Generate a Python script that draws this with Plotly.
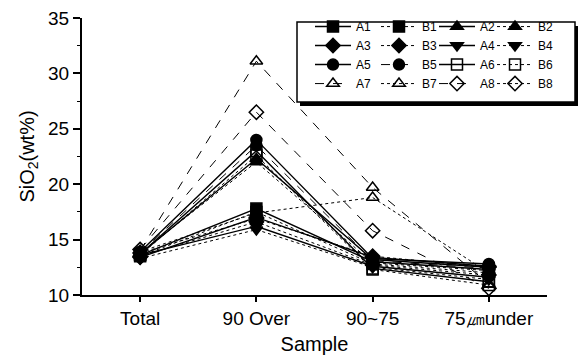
import plotly.graph_objects as go

# Sieve fractions on the x axis
samples = ["Total", "90 Over", "90~75", "75㎛under"]

# SiO2 content (wt%) of each sample series per fraction
A1 = [13.6, 17.8, 13.0, 12.3]
B1 = [13.5, 17.5, 12.8, 12.0]
A2 = [13.7, 22.3, 13.2, 12.5]
B2 = [13.8, 22.0, 12.9, 12.2]
A3 = [13.4, 17.0, 13.4, 12.6]
B3 = [13.5, 16.6, 12.7, 11.8]
A4 = [13.6, 16.2, 12.6, 11.6]
B4 = [13.3, 15.9, 12.5, 11.4]
A5 = [13.9, 24.0, 13.3, 12.8]
B5 = [13.8, 23.5, 13.1, 12.4]
A6 = [13.7, 23.0, 12.4, 11.2]
B6 = [13.6, 22.6, 12.3, 10.9]
A7 = [14.0, 31.1, 19.7, 11.0]
B7 = [13.9, 17.4, 18.8, 12.0]
A8 = [14.1, 26.5, 15.8, 10.6]
B8 = [13.8, 16.9, 13.5, 12.5]

# name, values, marker symbol, line dash, legend column
series = [
    ("A1", A1, "square", "solid", "legend"), ("B1", B1, "square", "dot", "legend2"),
    ("A2", A2, "triangle-up", "solid", "legend3"), ("B2", B2, "triangle-up", "dot", "legend4"),
    ("A3", A3, "diamond", "solid", "legend"), ("B3", B3, "diamond", "dot", "legend2"),
    ("A4", A4, "triangle-down", "solid", "legend3"), ("B4", B4, "triangle-down", "dot", "legend4"),
    ("A5", A5, "circle", "solid", "legend"), ("B5", B5, "circle", "dash", "legend2"),
    ("A6", A6, "square-open", "solid", "legend3"), ("B6", B6, "square-open", "dot", "legend4"),
    ("A7", A7, "triangle-up-open", "dash", "legend"), ("B7", B7, "triangle-up-open", "dot", "legend2"),
    ("A8", A8, "diamond-open", "dash", "legend3"), ("B8", B8, "diamond-open", "dot", "legend4"),
]

FONT = "Liberation Sans"

fig = go.Figure()
for name, vals, sym, dash, leg in series:
    fig.add_trace(go.Scatter(
        x=samples, y=vals, name=name, mode="lines+markers", legend=leg,
        line=dict(color="black", width=1.4 if dash == "solid" else 1, dash=dash),
        marker=dict(symbol=sym, size=11, color="black",
                    line=dict(color="black", width=1.5)),
    ))

# plot area spans x 82..547 px and y 15..295 px of the 579x362 canvas
def px_x(p):
    return (p - 82) / 465.0

def px_y(p):
    return (295 - p) / 280.0

# legend frame with a drop shadow
fig.add_shape(type="rect", xref="paper", yref="paper",
              x0=px_x(300), x1=px_x(578), y0=px_y(104), y1=px_y(23),
              fillcolor="black", line=dict(width=0))
fig.add_shape(type="rect", xref="paper", yref="paper",
              x0=px_x(297), x1=px_x(575), y0=px_y(100), y1=px_y(19),
              fillcolor="white", line=dict(color="black", width=1.5))

def legend_col(left_px):
    return dict(
        x=px_x(left_px), y=px_y(9), xanchor="left", yanchor="top",
        orientation="v", bgcolor="rgba(0,0,0,0)", borderwidth=0,
        font=dict(family=FONT, size=12, color="black"),
        itemwidth=36, tracegroupgap=0,
    )

fig.update_layout(
    width=579, height=362,
    margin=dict(l=82, r=32, t=15, b=67),
    paper_bgcolor="white", plot_bgcolor="white",
    font=dict(family=FONT, color="black", size=16),
    showlegend=True,
    legend=legend_col(310),
    legend2=legend_col(376),
    legend3=legend_col(434),
    legend4=legend_col(492),
    xaxis=dict(
        type="category", range=[-0.5, 3.5], automargin=False,
        showline=True, linecolor="black", linewidth=2,
        ticks="outside", ticklen=5, tickwidth=1.5, tickcolor="black",
        showgrid=False, zeroline=False,
        tickfont=dict(size=19, family=FONT),
        title=dict(text="Sample", font=dict(size=20, family=FONT), standoff=9),
    ),
    yaxis=dict(
        range=[10, 35], tickvals=[10, 15, 20, 25, 30, 35], automargin=False,
        showline=True, linecolor="black", linewidth=2,
        ticks="outside", ticklen=7, tickwidth=1.5, tickcolor="black",
        minor=dict(tickvals=[12.5, 17.5, 22.5, 27.5, 32.5], ticks="outside",
                   ticklen=3, tickwidth=1, tickcolor="black"),
        showgrid=False, zeroline=False,
        tickfont=dict(size=19, family=FONT),
        title=dict(text="SiO<sub>2</sub>(wt%)", font=dict(size=20, family=FONT), standoff=8),
    ),
)

fig.write_html("out.html")
